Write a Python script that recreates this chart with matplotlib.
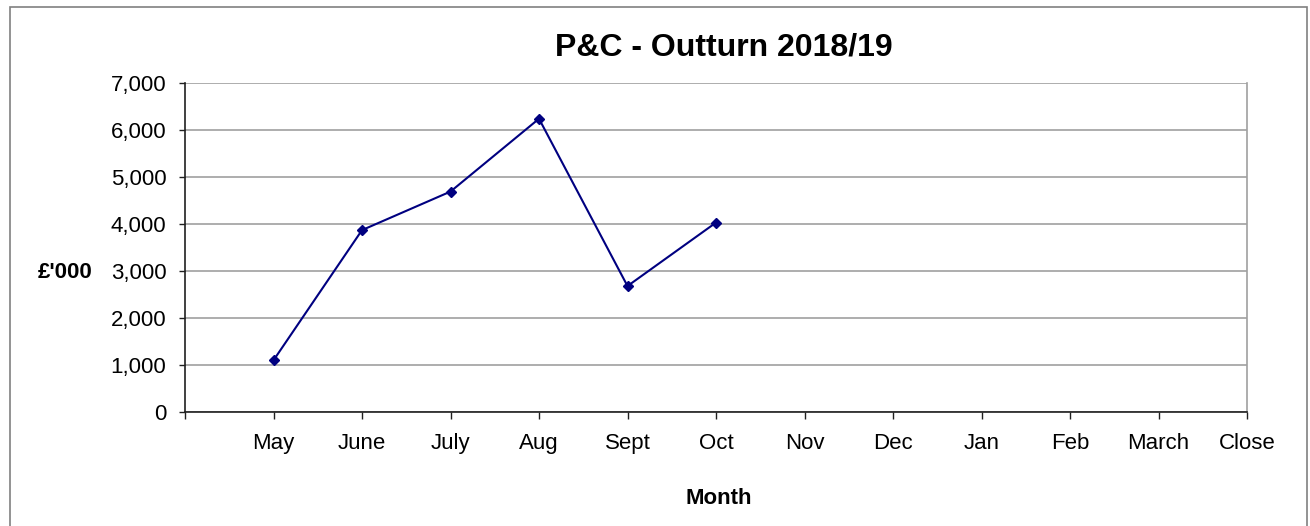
import matplotlib
matplotlib.use('Agg')
import matplotlib.pyplot as plt
from matplotlib.patches import Rectangle
from matplotlib.ticker import FuncFormatter

# Dados do gráfico
meses = ['', 'May', 'June', 'July', 'Aug', 'Sept', 'Oct', 'Nov', 'Dec', 'Jan', 'Feb', 'March', 'Close']
outturn = [1100, 3870, 4690, 6240, 2680, 4030]  # May..Oct
yticks = [0, 1000, 2000, 3000, 4000, 5000, 6000, 7000]

plt.rcParams['font.family'] = ['Liberation Sans', 'DejaVu Sans']

W, H = 1310, 526
fig = plt.figure(figsize=(W / 100, H / 100), dpi=100)

# Moldura externa
fig.patches.append(Rectangle((9.5 / W, -0.1), (1307 - 9.5) / W, 1 - 6.5 / H + 0.1,
                             transform=fig.transFigure, fill=False,
                             edgecolor='#808080', linewidth=1.2))

ax = fig.add_axes([185 / W, 1 - 412 / H, (1247 - 185) / W, (412 - 83) / H])

x = list(range(1, len(outturn) + 1))
ax.plot(x, outturn, color='#000080', linewidth=1.5, marker='D', markersize=5.5,
        markerfacecolor='#000080', markeredgecolor='#000080', zorder=3)

ax.set_xlim(0, len(meses) - 1)
ax.set_ylim(0, 7000)
ax.set_xticks(range(len(meses)))
ax.set_xticklabels(meses)
ax.set_yticks(yticks)
ax.yaxis.set_major_formatter(FuncFormatter(lambda v, p: f'{int(v):,}'))

ax.grid(axis='y', color='#a0a0a0', linewidth=1.2)
ax.set_axisbelow(True)
ax.spines['top'].set_visible(False)
ax.spines['right'].set_color('#a0a0a0')
ax.spines['right'].set_linewidth(1.2)
ax.spines['left'].set_color('#202020')
ax.spines['bottom'].set_color('#202020')
ax.spines['left'].set_linewidth(1.2)
ax.spines['bottom'].set_linewidth(1.2)

ax.tick_params(axis='y', length=4.5, width=1, pad=9, labelsize=16, color='#202020')
ax.tick_params(axis='x', length=5, width=1, pad=10, labelsize=16, color='#202020')

fig.text(724 / W, 1 - 48 / H, 'P&C - Outturn 2018/19', ha='center', va='center',
         fontsize=23, fontweight='bold')
fig.text(65 / W, 1 - 272 / H, "£'000", ha='center', va='center',
         fontsize=16, fontweight='bold')
fig.text(719 / W, 1 - 498 / H, 'Month', ha='center', va='center',
         fontsize=16, fontweight='bold')

fig.savefig('out.png', dpi=100)
